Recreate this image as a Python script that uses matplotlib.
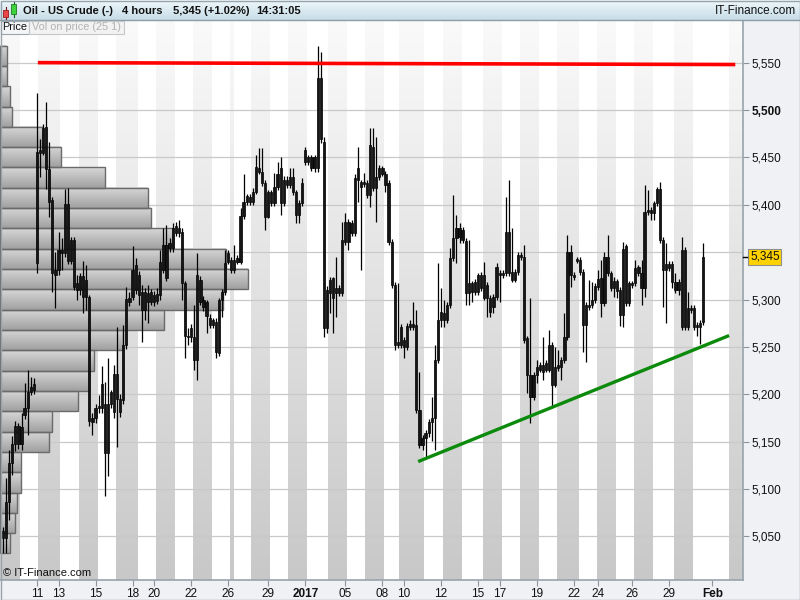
import numpy as np
import matplotlib.pyplot as plt
import matplotlib.transforms as mtransforms
from matplotlib.colors import LinearSegmentedColormap
from matplotlib.patches import Rectangle

plt.rcParams['font.family'] = ['Liberation Sans', 'DejaVu Sans']

# 4-hour candles, Oil - US Crude (prices in cents)
opens = [5048, 5048, 5086, 5127, 5148, 5167, 5148, 5178, 5186, 5202, 5205,
         5339, 5455, 5455, 5482, 5438, 5405, 5331, 5331, 5352, 5349,
         5401, 5341, 5363, 5317, 5310, 5325, 5303, 5303, 5171, 5175,
         5185, 5185, 5190, 5138, 5190, 5181, 5221, 5195, 5194, 5252,
         5297, 5303, 5336, 5326, 5308, 5289, 5307, 5297, 5305, 5298,
         5305, 5331, 5358, 5354, 5354, 5370, 5376, 5371, 5317, 5262,
         5260, 5260, 5236, 5321, 5300, 5297, 5280, 5273, 5276, 5244,
         5299, 5308, 5340, 5342, 5331, 5344, 5340, 5388, 5403, 5408,
         5403, 5414, 5439, 5435, 5423, 5387, 5413, 5402, 5419, 5439,
         5402, 5426, 5421, 5429, 5413, 5389, 5402, 5445, 5450, 5450,
         5439, 5439, 5534, 5466, 5270, 5307, 5323, 5307, 5312, 5307,
         5361, 5382, 5370, 5370, 5426, 5424, 5422, 5423, 5410, 5461,
         5418, 5429, 5439, 5433, 5423, 5361, 5315, 5252, 5252, 5257,
         5250, 5271, 5274, 5273, 5183, 5146, 5154, 5159, 5171, 5175,
         5236, 5278, 5286, 5278, 5294, 5344, 5365, 5375, 5363, 5362,
         5307, 5317, 5308, 5308, 5326, 5302, 5315, 5302, 5292, 5303,
         5328, 5326, 5328, 5371, 5329, 5321, 5329, 5347, 5345, 5259,
         5220, 5197, 5220, 5226, 5231, 5226, 5226, 5252, 5210, 5228,
         5229, 5236, 5260, 5350, 5326, 5341, 5342, 5329, 5273, 5294,
         5294, 5299, 5313, 5296, 5296, 5345, 5328, 5312, 5320, 5310,
         5284, 5357, 5296, 5317, 5317, 5334, 5328, 5312, 5392, 5395,
         5391, 5402, 5417, 5363, 5331, 5338, 5338, 5319, 5310, 5271,
         5352, 5291, 5291, 5291, 5273, 5271, 5276]
highs = [5060, 5112, 5141, 5156, 5172, 5170, 5180, 5212, 5226, 5218, 5217,
         5518, 5469, 5485, 5508, 5466, 5408, 5350, 5371, 5365, 5417,
         5418, 5366, 5366, 5326, 5328, 5341, 5336, 5305, 5180, 5190,
         5199, 5230, 5213, 5238, 5205, 5231, 5271, 5200, 5273, 5313,
         5308, 5356, 5344, 5330, 5315, 5312, 5315, 5311, 5309, 5312,
         5352, 5376, 5379, 5365, 5381, 5382, 5384, 5375, 5320, 5270,
         5274, 5294, 5349, 5325, 5304, 5300, 5285, 5281, 5280, 5302,
         5311, 5352, 5352, 5345, 5358, 5347, 5397, 5433, 5411, 5411,
         5418, 5453, 5460, 5460, 5426, 5416, 5416, 5434, 5445, 5450,
         5430, 5430, 5439, 5439, 5416, 5405, 5428, 5461, 5453, 5453,
         5453, 5568, 5561, 5471, 5314, 5324, 5324, 5345, 5315, 5382,
         5391, 5385, 5384, 5432, 5461, 5426, 5434, 5426, 5481, 5481,
         5472, 5442, 5441, 5436, 5426, 5364, 5318, 5317, 5274, 5260,
         5275, 5278, 5297, 5289, 5223, 5157, 5162, 5174, 5197, 5252,
         5339, 5312, 5299, 5297, 5354, 5410, 5389, 5381, 5377, 5365,
         5363, 5320, 5322, 5328, 5329, 5340, 5318, 5305, 5306, 5339,
         5331, 5331, 5408, 5426, 5376, 5332, 5350, 5350, 5358, 5262,
         5302, 5223, 5236, 5234, 5260, 5236, 5268, 5255, 5250, 5247,
         5239, 5286, 5368, 5358, 5329, 5345, 5345, 5332, 5297, 5321,
         5319, 5317, 5331, 5342, 5350, 5368, 5330, 5324, 5322, 5313,
         5361, 5359, 5320, 5320, 5342, 5336, 5342, 5421, 5416, 5398,
         5404, 5419, 5424, 5366, 5360, 5341, 5341, 5328, 5322, 5366,
         5355, 5308, 5294, 5294, 5276, 5278, 5360]
lows = [5032, 5033, 5067, 5115, 5140, 5142, 5141, 5174, 5157, 5199, 5200,
        5328, 5429, 5452, 5417, 5387, 5308, 5291, 5326, 5331, 5345,
        5338, 5338, 5310, 5299, 5305, 5286, 5289, 5167, 5157, 5170,
        5180, 5180, 5093, 5114, 5186, 5175, 5144, 5176, 5190, 5248,
        5293, 5300, 5306, 5294, 5255, 5278, 5275, 5294, 5293, 5295,
        5300, 5328, 5320, 5350, 5350, 5367, 5366, 5299, 5238, 5252,
        5255, 5226, 5215, 5294, 5288, 5265, 5270, 5270, 5238, 5240,
        5282, 5305, 5337, 5328, 5328, 5337, 5337, 5385, 5400, 5400,
        5400, 5411, 5432, 5420, 5373, 5386, 5399, 5399, 5416, 5389,
        5399, 5418, 5418, 5410, 5381, 5381, 5399, 5442, 5442, 5436,
        5435, 5435, 5465, 5260, 5265, 5286, 5265, 5282, 5304, 5304,
        5358, 5352, 5367, 5367, 5403, 5331, 5419, 5407, 5398, 5415,
        5382, 5426, 5430, 5414, 5358, 5312, 5247, 5249, 5249, 5238,
        5247, 5268, 5268, 5180, 5143, 5141, 5133, 5155, 5151, 5141,
        5233, 5271, 5271, 5275, 5291, 5341, 5339, 5360, 5360, 5294,
        5294, 5297, 5305, 5305, 5309, 5299, 5282, 5282, 5286, 5300,
        5297, 5323, 5325, 5325, 5318, 5318, 5326, 5342, 5254, 5201,
        5170, 5194, 5212, 5223, 5215, 5223, 5223, 5186, 5208, 5225,
        5215, 5233, 5257, 5313, 5321, 5339, 5326, 5245, 5234, 5289,
        5291, 5296, 5310, 5282, 5293, 5325, 5309, 5303, 5302, 5272,
        5271, 5293, 5293, 5312, 5314, 5325, 5294, 5303, 5389, 5384,
        5384, 5399, 5360, 5292, 5275, 5330, 5312, 5307, 5305, 5268,
        5268, 5268, 5286, 5268, 5262, 5253, 5273]
closes = [5056, 5086, 5127, 5148, 5167, 5148, 5165, 5186, 5202, 5208, 5211,
          5456, 5458, 5481, 5438, 5403, 5328, 5326, 5352, 5349, 5401,
          5341, 5363, 5313, 5310, 5325, 5303, 5321, 5172, 5175, 5186,
          5188, 5211, 5138, 5190, 5202, 5221, 5195, 5181, 5252, 5301,
          5302, 5331, 5310, 5305, 5289, 5308, 5297, 5308, 5297, 5306,
          5340, 5358, 5323, 5360, 5376, 5378, 5370, 5317, 5262, 5260,
          5270, 5236, 5326, 5297, 5292, 5283, 5273, 5278, 5245, 5299,
          5308, 5339, 5349, 5331, 5342, 5340, 5388, 5403, 5409, 5403,
          5414, 5440, 5435, 5423, 5387, 5413, 5402, 5419, 5432, 5402,
          5426, 5421, 5429, 5413, 5389, 5402, 5423, 5458, 5445, 5439,
          5450, 5534, 5469, 5270, 5310, 5321, 5302, 5312, 5307, 5363,
          5382, 5361, 5381, 5428, 5439, 5419, 5424, 5410, 5463, 5418,
          5429, 5439, 5433, 5421, 5361, 5315, 5252, 5255, 5271, 5250,
          5272, 5274, 5271, 5183, 5146, 5154, 5159, 5171, 5175, 5236,
          5278, 5287, 5278, 5294, 5344, 5365, 5375, 5366, 5373, 5307,
          5317, 5308, 5319, 5326, 5312, 5326, 5302, 5287, 5303, 5334,
          5326, 5328, 5371, 5328, 5321, 5329, 5347, 5345, 5257, 5220,
          5197, 5220, 5229, 5231, 5223, 5233, 5252, 5210, 5229, 5231,
          5236, 5260, 5350, 5326, 5324, 5343, 5329, 5273, 5294, 5292,
          5299, 5314, 5322, 5323, 5345, 5328, 5312, 5320, 5309, 5284,
          5353, 5296, 5317, 5315, 5333, 5328, 5312, 5392, 5395, 5391,
          5402, 5417, 5363, 5331, 5338, 5333, 5319, 5310, 5319, 5352,
          5271, 5271, 5289, 5271, 5271, 5275, 5345]

# volume on price, 25 rows, listed from the top row down
vol_rows = [7, 7, 10, 12, 43, 61, 105, 148, 151, 173, 226, 248, 223,
            164, 123, 94, 89, 78, 52, 49, 21, 21, 17, 15, 10]

# day labels (bar index where the day starts)
tick_pos = [11, 18, 30, 42, 49, 61, 73, 86, 98, 111, 123, 130, 142, 154,
            161, 173, 185, 193, 204, 216, 230]
tick_lab = ['11', '13', '15', '18', '20', '22', '26', '29', '2017', '05', '08',
            '10', '12', '15', '17', '19', '22', '24', '26', '29', 'Feb']

# shaded (alternate) trading days, in bar units
shade_start = [-1, 11.5, 24.5, 36.5, 49.5, 61.5, 73.5, 80.5, 92.5, 105.5,
               117.5, 128.5, 142.5, 155.5, 167.5, 179.5, 192.5, 204.5, 217.5, 235.5]
shade_end = [5.5, 18.5, 30.5, 43.5, 55.5, 67.5, 74.5, 86.5, 98.5, 111.5,
             123.5, 136.5, 148.5, 161.5, 173.5, 186.5, 198.5, 210.5, 223.5, 240]

price_levels = [5050, 5100, 5150, 5200, 5250, 5300, 5350, 5400, 5450, 5500, 5550]
last_price = 5345

# drawn trend lines
resist_x = [11.3, 237.4]
resist_y = [5550, 5548]
support_x = [134.6, 235.4]
support_y = [5129, 5262]

x_lo, x_hi = -0.97, 239.9
y_lo, y_hi = 5004, 5595

W, H = 800, 600
fig = plt.figure(figsize=(8, 6), dpi=100, facecolor='#eff1f4')
ax = fig.add_axes([0, 20 / H, 743 / W, 560 / H])
ax.set_facecolor('white')

# day shading with vertical gradient
grad = np.linspace(0, 1, 256).reshape(-1, 1)
day_cm = LinearSegmentedColormap.from_list('day', ['#fafafa', '#c8c8c8'])
for s, e in zip(shade_start, shade_end):
    ax.imshow(grad, extent=[s, e, y_lo, y_hi], cmap=day_cm, aspect='auto',
              interpolation='bilinear', zorder=0)

for lv in price_levels:
    ax.axhline(lv, color='#c9c9c9', lw=0.9, zorder=1)

ax.set_xlim(x_lo, x_hi)
ax.set_ylim(y_lo, y_hi)

# axes / ticks
for side in ['top', 'left']:
    ax.spines[side].set_visible(False)
for side in ['bottom', 'right']:
    ax.spines[side].set_color('#98a3ab')
    ax.spines[side].set_linewidth(1.2)
ax.yaxis.tick_right()
ylabels = [lv for lv in price_levels if lv != 5350]
ax.set_yticks(ylabels)
ax.set_yticklabels([f'{lv:,}' for lv in ylabels])
ax.set_xticks(tick_pos)
ax.set_xticklabels(tick_lab)
ax.tick_params(axis='both', direction='out', length=4, color='#8a959d',
               labelsize=8.5, labelcolor='#111111')
ax.tick_params(axis='y', pad=2)
ax.tick_params(axis='x', pad=2)
for t in ax.get_xticklabels():
    if t.get_text() in ('2017', 'Feb'):
        t.set_fontweight('bold')
for t in ax.get_yticklabels():
    if t.get_text() == '5,500':
        t.set_fontweight('bold')

# volume on price profile
ax_vol = ax.twiny()
ax_vol.axis('off')
edges = np.linspace(min(lows), max(highs), len(vol_rows) + 1)
bar_cm = LinearSegmentedColormap.from_list('bar', ['#d8d8d8', '#a0a0a0'])
for k, v in enumerate(vol_rows[::-1]):
    b0, b1 = edges[k], edges[k + 1]
    ax_vol.imshow(grad, extent=[0, v, b0, b1], cmap=bar_cm, aspect='auto',
                  interpolation='bilinear', zorder=1)
    ax_vol.add_patch(Rectangle((0, b0), v, b1 - b0, fill=False,
                               edgecolor='#6a6a6a', lw=1.0, zorder=2))
ax_vol.set_xlim(0, 743)
ax_vol.set_ylim(y_lo, y_hi)

# candles
ax_c = ax.twiny()
ax_c.axis('off')
idx = np.arange(len(opens))
o = np.array(opens)
c = np.array(closes)
bot = np.minimum(o, c)
top = np.maximum(o, c)
ax_c.vlines(idx, lows, highs, color='#000000', lw=0.9, zorder=2)
ax_c.bar(idx, np.maximum(top - bot, 1.2), bottom=bot, width=0.72,
         color='#151515', edgecolor='#000000', lw=0.5, zorder=3)

ax_c.plot(resist_x, resist_y, color='#ff0000', lw=2.6, solid_capstyle='butt', zorder=5)
ax_c.plot(support_x, support_y, color='#0b8a0b', lw=2.4, solid_capstyle='butt', zorder=5)
ax_c.set_xlim(x_lo, x_hi)
ax_c.set_ylim(y_lo, y_hi)

# current price marker on the price scale
trans = mtransforms.blended_transform_factory(ax.transAxes, ax.transData)
ax.plot([1.0, 1.006], [last_price, last_price], color='black', lw=1,
        transform=trans, clip_on=False, zorder=6)
ax.annotate(f'{last_price:,}', xy=(1.0, last_price), xycoords=trans,
            xytext=(7, 0), textcoords='offset pixels', ha='left', va='center',
            fontsize=8.5, color='#111111', annotation_clip=False,
            bbox=dict(boxstyle='square,pad=0.15', fc='#ffd200', ec='#8f8f8f', lw=0.8))

# header, tabs and frame in pixel coordinates
ov = fig.add_axes([0, 0, 1, 1], zorder=10)
ov.set_xlim(0, W)
ov.set_ylim(H, 0)
ov.axis('off')
ov.patch.set_alpha(0)
head_cm = LinearSegmentedColormap.from_list('head', ['#eef8fc', '#c7dce6'])
ov.imshow(grad, extent=[0, W, 20, 0], cmap=head_cm, aspect='auto',
          interpolation='bilinear', zorder=1)
ov.plot([0, W], [20, 20], color='#8d9ea8', lw=1, zorder=2)

# small candle icon
ov.plot([5.5, 5.5], [7, 19], color='#7a1010', lw=0.8, zorder=3)
ov.add_patch(Rectangle((3, 10), 5, 7, fc='#e84848', ec='#9a1c1c', lw=0.6, zorder=4))
ov.plot([13.5, 13.5], [2, 17], color='#106010', lw=0.8, zorder=3)
ov.add_patch(Rectangle((11, 4), 5, 10, fc='#3fd43f', ec='#1d7a1d', lw=0.6, zorder=4))

hdr = dict(fontsize=8, fontweight='bold', color='#111111', va='center', zorder=5)
ov.text(23, 10.5, 'Oil - US Crude (-)', **hdr)
ov.text(122, 10.5, '4 hours', **hdr)
ov.text(173, 10.5, '5,345 (+1.02%)', **hdr)
ov.text(256, 10.5, '14:31:05', **hdr)
ov.text(796, 10.5, 'IT-Finance.com', fontsize=8.5, color='#111111',
        ha='right', va='center', zorder=5)

ov.add_patch(Rectangle((1, 21), 28, 13, fc='#f3f5f7', ec='#9aa5ad', lw=0.8, zorder=3))
ov.text(15, 27.5, 'Price', fontsize=7.8, color='#111111', ha='center', va='center', zorder=4)
ov.add_patch(Rectangle((29, 21), 95, 13, fc='#f2f2f2', ec='#c4c8cc', lw=0.8, zorder=3))
ov.text(76.5, 27.5, 'Vol on price (25 1)', fontsize=7.8, color='#b2b2b2',
        ha='center', va='center', zorder=4)

ov.text(3, 573, '\u00a9 IT-Finance.com', fontsize=8, color='#111111',
        va='center', zorder=4)
ov.add_patch(Rectangle((0.5, 0.5), W - 1, H - 1, fill=False, ec='#98a3ab', lw=1, zorder=6))

fig.savefig('out.png', dpi=100, facecolor=fig.get_facecolor())
